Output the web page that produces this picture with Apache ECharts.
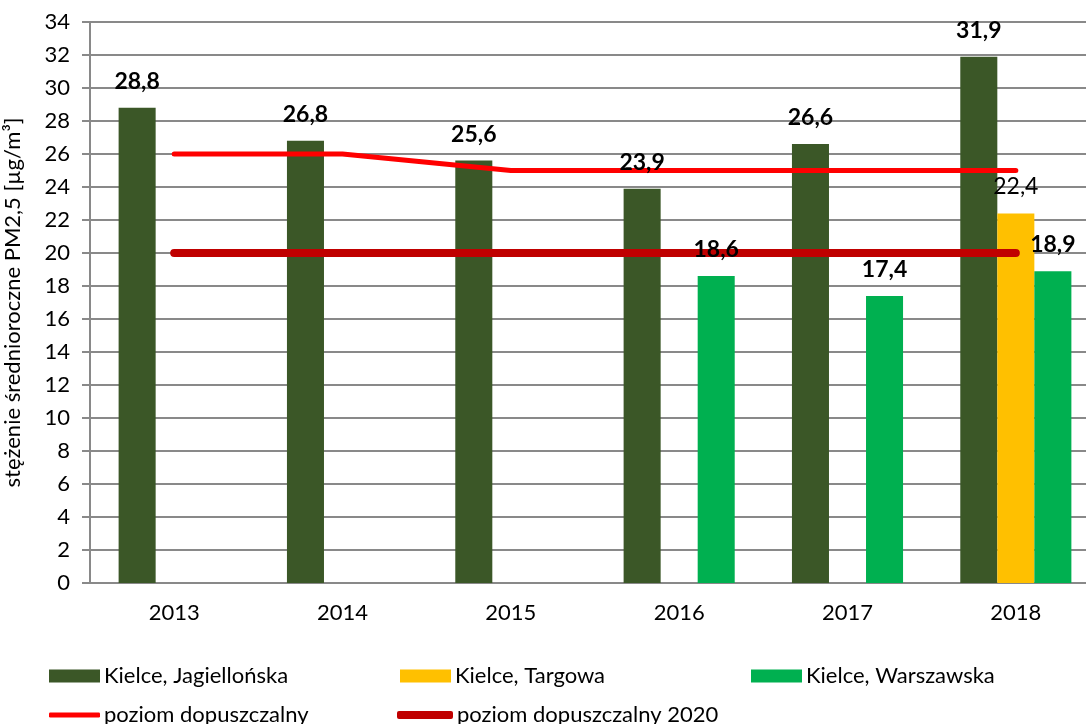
<!DOCTYPE html>
<html>
<head>
<meta charset="utf-8">
<script src="https://cdn.jsdelivr.net/npm/echarts@6/dist/echarts.min.js"></script>
<style>
  html, body { margin: 0; padding: 0; background: #fff; }
  #chart { width: 1086px; height: 724px; }
</style>
</head>
<body>
<div id="chart"></div>
<script>
const years = ['2013', '2014', '2015', '2016', '2017', '2018']
const jagiellonska = [28.8, 26.8, 25.6, 23.9, 26.6, 31.9]
const targowa = [null, null, null, null, null, 22.4]
const warszawska = [null, null, null, 18.6, 17.4, 18.9]
const dopuszczalny = [26, 26, 25, 25, 25, 25]
const dopuszczalny2020 = [20, 20, 20, 20, 20, 20]

const FONT = 'Lato'
const gridColor = '#898989'
const fmt = (p) => (p.value == null ? '' : String(p.value).replace('.', ','))

const chart = echarts.init(document.getElementById('chart'))

// bar label overlay so the values sit above the limit lines
const labelBar = (name, data, bold) => ({
  name: name + '_lbl',
  type: 'bar',
  xAxisIndex: 1,
  data,
  z: 10,
  barGap: 0,
  barCategoryGap: '34%',
  itemStyle: { color: 'rgba(0,0,0,0)' },
  silent: true,
  label: {
    show: true,
    position: 'top',
    distance: 15,
    formatter: fmt,
    fontFamily: FONT,
    fontSize: 23,
    fontWeight: bold ? 'bold' : 'normal',
    color: '#000',
  },
})

const legendBox = (name, left, top, opts) => Object.assign({
  data: [name],
  left,
  top,
  itemWidth: 51,
  itemHeight: 13,
  itemGap: 0,
  textStyle: { fontFamily: FONT, fontSize: 22, color: '#000', padding: [0, 0, 0, -1] },
  selectedMode: false,
}, opts || {})

chart.setOption({
  animation: false,
  grid: { left: 90, top: 22, width: 1010, bottom: 141, outerBoundsMode: 'none' },
  legend: [
    legendBox('Kielce, Jagiellońska', 44, 660, { icon: 'rect' }),
    legendBox('Kielce, Targowa', 395, 660, { icon: 'rect' }),
    legendBox('Kielce, Warszawska', 746, 660, { icon: 'rect' }),
    legendBox('poziom dopuszczalny', 44, 699, { icon: 'roundRect', itemHeight: 5 }),
    legendBox('poziom dopuszczalny 2020', 392, 699, { icon: 'roundRect', itemHeight: 8, itemWidth: 56 }),
  ],
  xAxis: [
    {
      type: 'category',
      data: years,
      axisLine: { lineStyle: { color: gridColor, width: 2 } },
      axisTick: { length: 8, lineStyle: { color: gridColor, width: 2 } },
      axisLabel: { fontFamily: FONT, fontSize: 22, color: '#000', margin: 19 },
    },
    { type: 'category', data: years, show: false },
  ],
  yAxis: {
    type: 'value',
    min: 0,
    max: 34,
    interval: 2,
    name: 'stężenie średnioroczne PM2,5 [µg/m³]',
    nameLocation: 'middle',
    nameGap: 66,
    nameTextStyle: { fontFamily: FONT, fontSize: 22, color: '#000' },
    axisLine: { show: true, lineStyle: { color: gridColor, width: 2 } },
    axisTick: { show: true, length: 8, lineStyle: { color: gridColor, width: 2 } },
    axisLabel: { fontFamily: FONT, fontSize: 22, color: '#000', margin: 20 },
    splitLine: { lineStyle: { color: gridColor, width: 2 } },
  },
  series: [
    {
      name: 'Kielce, Jagiellońska', type: 'bar', data: jagiellonska,
      itemStyle: { color: '#3b5727' }, barGap: 0, barCategoryGap: '34%', z: 2,
    },
    {
      name: 'Kielce, Targowa', type: 'bar', data: targowa,
      itemStyle: { color: '#ffc000' }, barGap: 0, barCategoryGap: '34%', z: 2,
    },
    {
      name: 'Kielce, Warszawska', type: 'bar', data: warszawska,
      itemStyle: { color: '#00b050' }, barGap: 0, barCategoryGap: '34%', z: 2,
    },
    {
      name: 'poziom dopuszczalny', type: 'line', data: dopuszczalny,
      symbol: 'none', z: 4,
      itemStyle: { color: '#ff0000' },
      lineStyle: { color: '#ff0000', width: 5, cap: 'round' },
    },
    {
      name: 'poziom dopuszczalny 2020', type: 'line', data: dopuszczalny2020,
      symbol: 'none', z: 4,
      itemStyle: { color: '#c00000' },
      lineStyle: { color: '#c00000', width: 8, cap: 'round' },
    },
    labelBar('Kielce, Jagiellońska', jagiellonska, true),
    labelBar('Kielce, Targowa', targowa, false),
    labelBar('Kielce, Warszawska', warszawska, true),
  ],
})
</script>
</body>
</html>
